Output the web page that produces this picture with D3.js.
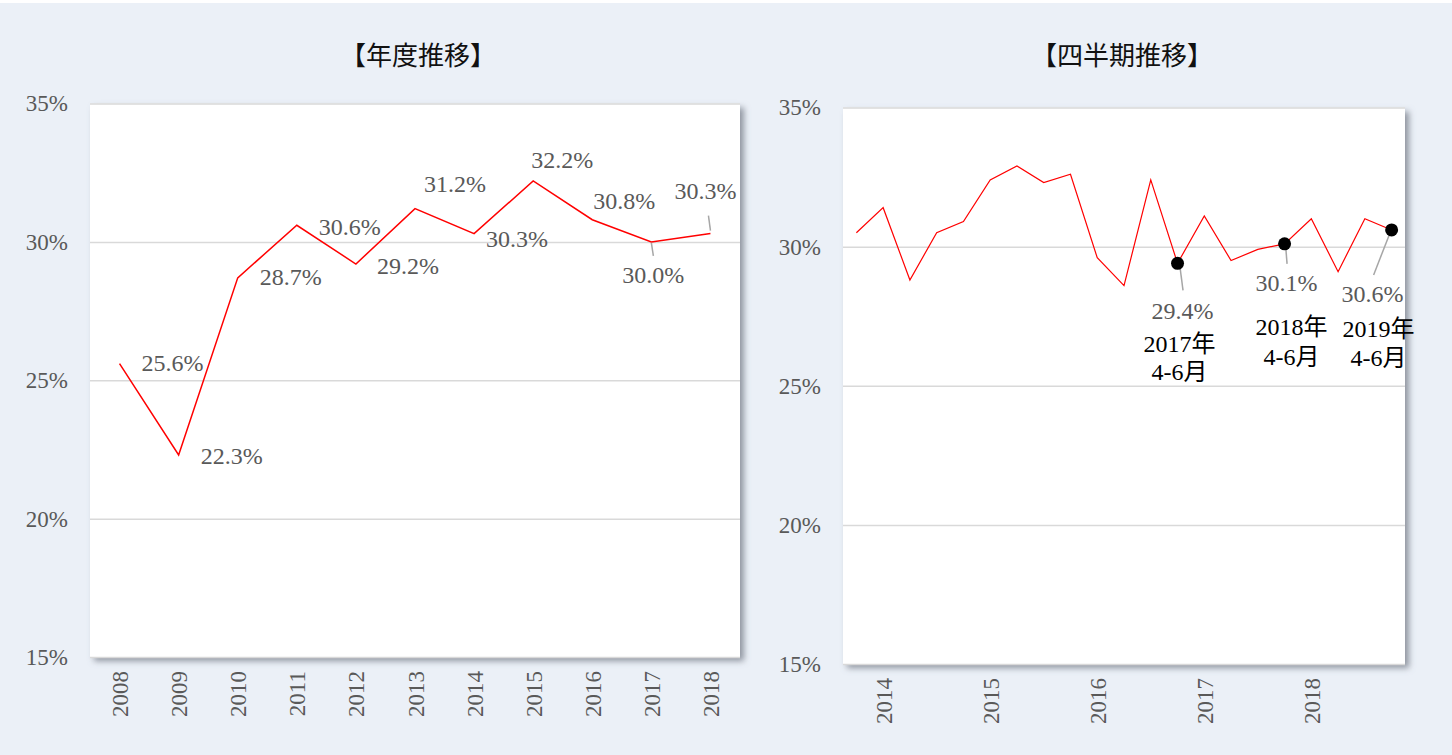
<!DOCTYPE html>
<html>
<head>
<meta charset="utf-8">
<script src="https://cdn.jsdelivr.net/npm/d3@7"></script>
<style>
  html, body { margin: 0; padding: 0; background: #ffffff; }
  svg { display: block; }
</style>
</head>
<body>
<svg id="chart" width="1452" height="755"></svg>
<script>
// ---------- DATA ----------
const annualTitle = "【年度推移】";
const annualCategories = ["2008","2009","2010","2011","2012","2013","2014","2015","2016","2017","2018"];
const annualValues = [25.6, 22.3, 28.7, 30.6, 29.2, 31.2, 30.3, 32.2, 30.8, 30.0, 30.3];

const quarterTitle = "【四半期推移】";
const quarterCategories = [
  "2014年4-6月","2014年7-9月","2014年10-12月","2015年1-3月",
  "2015年4-6月","2015年7-9月","2015年10-12月","2016年1-3月",
  "2016年4-6月","2016年7-9月","2016年10-12月","2017年1-3月",
  "2017年4-6月","2017年7-9月","2017年10-12月","2018年1-3月",
  "2018年4-6月","2018年7-9月","2018年10-12月","2019年1-3月",
  "2019年4-6月"
];
const quarterValues = [30.5, 31.4, 28.8, 30.5, 30.9, 32.4, 32.9, 32.3, 32.6, 29.6, 28.6, 32.4,
                       29.4, 31.1, 29.5, 29.9, 30.1, 31.0, 29.1, 31.0, 30.6];
const quarterTickCategories = ["2014年7-9月","2015年7-9月","2016年7-9月","2017年7-9月","2018年7-9月"];
const quarterTickLabels = ["2014","2015","2016","2017","2018"];
const highlightCategories = ["2017年4-6月","2018年4-6月","2019年4-6月"];
const highlightYearLabels = ["2017年","2018年","2019年"];
const highlightPeriodLabels = ["4-6月","4-6月","4-6月"];

const yTicks = [15, 20, 25, 30, 35];
const yDomain = [15, 35];

// ---------- LAYOUT (label placement, not data) ----------
const annualLabelOffsets = [[53,-1],[53,1],[53,-1],[53,1],[52,2],[40,-25],[43,5],[29,-21],[32,-19],[2,33],[-5,-43]];
const annualLeaders = {9: [[0,1],[2,14]], 10: [[0,-3],[-2,-18]]};
const highlightLayout = [
  {leader: [[2.5,4],[5.5,27]],  pct: [5, 47],   year: [2, 80],  period: [2, 108]},
  {leader: [[1.3,5],[2.5,20]],  pct: [2, 39],   year: [7, 83],  period: [7, 113]},
  {leader: [[-2.4,5],[-18,45]], pct: [-19, 64], year: [-13, 99], period: [-13, 128]}
];

// ---------- DRAW ----------
const svg = d3.select("#chart");
const BG = "#ebf0f7";
const serif = "'Liberation Serif','Times New Roman',serif";
const cjk = "'Noto Sans CJK JP','Noto Sans CJK SC',sans-serif";
const labelColor = "#595959";
const fs = 24;

svg.append("rect").attr("x", 0).attr("y", 3).attr("width", 1452).attr("height", 752).attr("fill", BG);

const defs = svg.append("defs");
const f = defs.append("filter").attr("id", "shadow").attr("x", "-5%").attr("y", "-5%").attr("width", "115%").attr("height", "115%");
f.append("feDropShadow").attr("dx", 4).attr("dy", 4).attr("stdDeviation", 3)
  .attr("flood-color", "#6f7782").attr("flood-opacity", 0.75);

function panel(opts) {
  const {x0, x1, y0, y1, cats, values, title, titleX, lineWidth} = opts;
  const x = d3.scalePoint().domain(cats).range([x0, x1]).padding(0.5);
  const y = d3.scaleLinear().domain(yDomain).range([y1, y0]);

  svg.append("text").attr("x", titleX).attr("y", 56).attr("dy", "0.35em")
    .attr("text-anchor", "middle").attr("font-family", cjk).attr("font-size", 26)
    .attr("font-weight", 400).attr("fill", "#111").text(title);

  svg.append("rect").attr("x", x0).attr("y", y0).attr("width", x1 - x0).attr("height", y1 - y0)
    .attr("fill", "#ffffff").attr("filter", "url(#shadow)");

  const yAxis = d3.axisLeft(y).tickValues(yTicks).tickSize(-(x1 - x0)).tickPadding(22)
    .tickFormat(d => d + "%");
  const ga = svg.append("g").attr("transform", `translate(${x0},0)`).call(yAxis);
  ga.select(".domain").remove();
  ga.selectAll(".tick line").attr("stroke", "#d9d9d9").attr("stroke-width", 1.5);
  ga.selectAll(".tick text").attr("font-family", serif).attr("font-size", 23).attr("fill", labelColor);

  const line = d3.line().x((d, i) => x(cats[i])).y(d => y(d));
  svg.append("path").datum(values).attr("d", line).attr("fill", "none")
    .attr("stroke", "#ff0000").attr("stroke-width", lineWidth).attr("stroke-linejoin", "miter");
  return {x, y};
}

// Left panel: annual
const L = panel({x0: 90, x1: 740, y0: 103.5, y1: 657, cats: annualCategories, values: annualValues,
  title: annualTitle, titleX: 418, lineWidth: 1.5});
{
  const xAxis = d3.axisBottom(L.x).tickSize(0);
  const g = svg.append("g").attr("transform", "translate(0,657)").call(xAxis);
  g.select(".domain").remove();
  g.selectAll(".tick text").attr("transform", "rotate(-90)").attr("text-anchor", "end")
    .attr("x", -14).attr("y", 0).attr("dy", "0.35em")
    .attr("font-family", serif).attr("font-size", 23).attr("fill", labelColor);

  annualValues.forEach((v, i) => {
    const px = L.x(annualCategories[i]), py = L.y(v);
    const ld = annualLeaders[i];
    if (ld) {
      svg.append("line").attr("x1", px + ld[0][0]).attr("y1", py + ld[0][1])
        .attr("x2", px + ld[1][0]).attr("y2", py + ld[1][1])
        .attr("stroke", "#a6a6a6").attr("stroke-width", 1.5);
    }
    const o = annualLabelOffsets[i];
    svg.append("text").attr("x", px + o[0]).attr("y", py + o[1]).attr("dy", "0.35em")
      .attr("text-anchor", "middle").attr("font-family", serif).attr("font-size", fs)
      .attr("fill", labelColor).text(v.toFixed(1) + "%");
  });
}

// Right panel: quarterly
const R = panel({x0: 843, x1: 1405, y0: 107.5, y1: 664, cats: quarterCategories, values: quarterValues,
  title: quarterTitle, titleX: 1122, lineWidth: 1.2});
{
  const xAxis = d3.axisBottom(R.x).tickSize(0).tickValues(quarterTickCategories)
    .tickFormat(d => quarterTickLabels[quarterTickCategories.indexOf(d)]);
  const g = svg.append("g").attr("transform", "translate(0,664)").call(xAxis);
  g.select(".domain").remove();
  g.selectAll(".tick text").attr("transform", "rotate(-90)").attr("text-anchor", "end")
    .attr("x", -14).attr("y", 0).attr("dy", "0.35em")
    .attr("font-family", serif).attr("font-size", 23).attr("fill", labelColor);

  highlightCategories.forEach((c, k) => {
    const i = quarterCategories.indexOf(c);
    const v = quarterValues[i];
    const px = R.x(c), py = R.y(v);
    const lay = highlightLayout[k];
    svg.append("line").attr("x1", px + lay.leader[0][0]).attr("y1", py + lay.leader[0][1])
      .attr("x2", px + lay.leader[1][0]).attr("y2", py + lay.leader[1][1])
      .attr("stroke", "#a6a6a6").attr("stroke-width", 1.5);
    svg.append("circle").attr("cx", px).attr("cy", py).attr("r", 6.5).attr("fill", "#000");
    svg.append("text").attr("x", px + lay.pct[0]).attr("y", py + lay.pct[1]).attr("dy", "0.35em")
      .attr("text-anchor", "middle").attr("font-family", serif).attr("font-size", fs)
      .attr("fill", labelColor).text(v.toFixed(1) + "%");
    svg.append("text").attr("x", px + lay.year[0]).attr("y", py + lay.year[1]).attr("dy", "0.35em")
      .attr("text-anchor", "middle").attr("font-family", serif + "," + cjk).attr("font-size", fs)
      .attr("fill", "#000").text(highlightYearLabels[k]);
    svg.append("text").attr("x", px + lay.period[0]).attr("y", py + lay.period[1]).attr("dy", "0.35em")
      .attr("text-anchor", "middle").attr("font-family", serif + "," + cjk).attr("font-size", fs)
      .attr("fill", "#000").text(highlightPeriodLabels[k]);
  });
}
</script>
</body>
</html>
